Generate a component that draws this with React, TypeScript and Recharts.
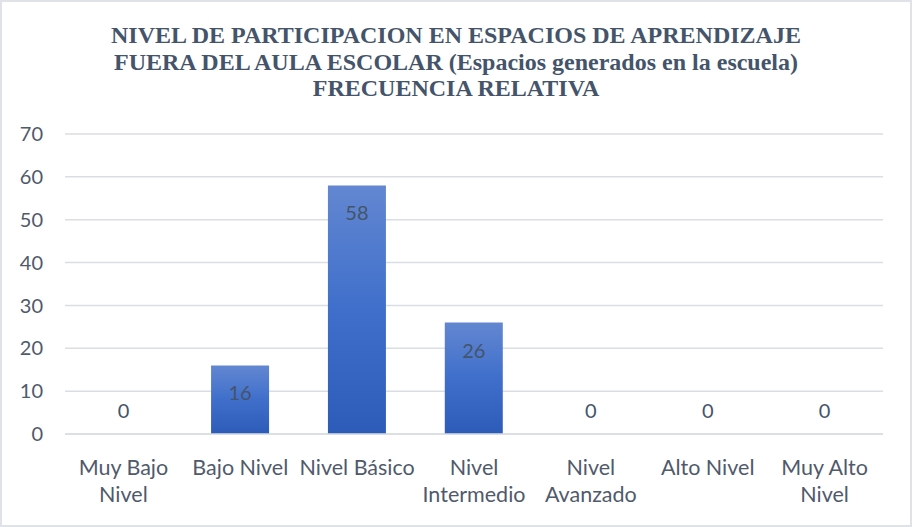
import React from 'react';
import { BarChart, Bar, XAxis, YAxis, CartesianGrid, LabelList } from 'recharts';

const categories = [
  'Muy Bajo Nivel',
  'Bajo Nivel',
  'Nivel Básico',
  'Nivel Intermedio',
  'Nivel Avanzado',
  'Alto Nivel',
  'Muy Alto Nivel',
];
const tickLines = [
  ['Muy Bajo', 'Nivel'],
  ['Bajo Nivel'],
  ['Nivel Básico'],
  ['Nivel', 'Intermedio'],
  ['Nivel', 'Avanzado'],
  ['Alto Nivel'],
  ['Muy Alto', 'Nivel'],
];
const values = [0, 16, 58, 26, 0, 0, 0];
const yTicks = [0, 10, 20, 30, 40, 50, 60, 70];
const titleLines = [
  'NIVEL DE PARTICIPACION EN ESPACIOS DE APRENDIZAJE',
  'FUERA DEL AULA ESCOLAR (Espacios generados en la escuela)',
  'FRECUENCIA RELATIVA',
];

const chartData = categories.map((name, i) => ({ name, value: values[i] }));

const FONT = 'Lato, "Noto Sans", sans-serif';
const TEXT = '#4f5a6b';
const LABEL = '#44546a';

// zero bars have no rect, so their "0" label is drawn from the category tick
function CategoryTick(props: any) {
  const { x, y, payload } = props;
  const lines = tickLines[payload.index] || [payload.value];
  const v = values[payload.index];
  return (
    <g transform={`translate(${x},${y})`}>
      {v === 0 && (
        <text x={0} y={-24} textAnchor="middle" fill={LABEL} fontSize={20} fontFamily={FONT}>
          {v}
        </text>
      )}
      {lines.map((line, i) => (
        <text key={i} x={0} y={i * 27} dy={33} textAnchor="middle" fill={TEXT} fontSize={21.5} fontFamily={FONT}>
          {line}
        </text>
      ))}
    </g>
  );
}

function ValueLabel(props: any) {
  const { x, y, width, value } = props;
  if (!value) return null;
  return (
    <text x={x + width / 2} y={y + 35} textAnchor="middle" fill={LABEL} fontSize={20} fontFamily={FONT}>
      {value}
    </text>
  );
}

export default function App() {
  return (
    <div
      style={{
        position: 'absolute',
        left: 0,
        top: 0,
        width: 912,
        height: 527,
        boxSizing: 'border-box',
        border: '2px solid #dfe3e8',
        background: '#fff',
      }}
    >
      <div
        style={{
          position: 'absolute',
          left: 0,
          top: 20,
          width: 908,
          textAlign: 'center',
          fontFamily: '"Liberation Serif", "Times New Roman", serif',
          fontWeight: 'bold',
          fontSize: 24,
          lineHeight: '26.5px',
          color: '#44546a',
        }}
      >
        {titleLines.map((t, i) => (
          <div key={i}>{t}</div>
        ))}
      </div>
      <div style={{ position: 'absolute', left: -2, top: -2 }}>
        <BarChart
          width={912}
          height={527}
          data={chartData}
          margin={{ top: 134, right: 29, left: 0, bottom: 0 }}
          barCategoryGap="25%"
        >
          <defs>
            <linearGradient id="barGrad" x1="0" y1="0" x2="0" y2="1">
              <stop offset="0%" stopColor="#6387d1" />
              <stop offset="50%" stopColor="#3f6fcb" />
              <stop offset="100%" stopColor="#2c5cb8" />
            </linearGradient>
          </defs>
          <CartesianGrid vertical={false} stroke="#dadde2" strokeWidth={1.5} />
          <XAxis
            dataKey="name"
            axisLine={{ stroke: '#dadde2', strokeWidth: 1.5 }}
            tickLine={false}
            tick={<CategoryTick />}
            height={93}
            interval={0}
          />
          <YAxis
            domain={[0, 70]}
            ticks={yTicks}
            width={65}
            axisLine={false}
            tickLine={false}
            tickSize={0}
            tickMargin={22}
            tick={{ fill: TEXT, fontSize: 20, fontFamily: FONT }}
          />
          <Bar dataKey="value" fill="url(#barGrad)" isAnimationActive={false}>
            <LabelList dataKey="value" content={<ValueLabel />} />
          </Bar>
        </BarChart>
      </div>
    </div>
  );
}
